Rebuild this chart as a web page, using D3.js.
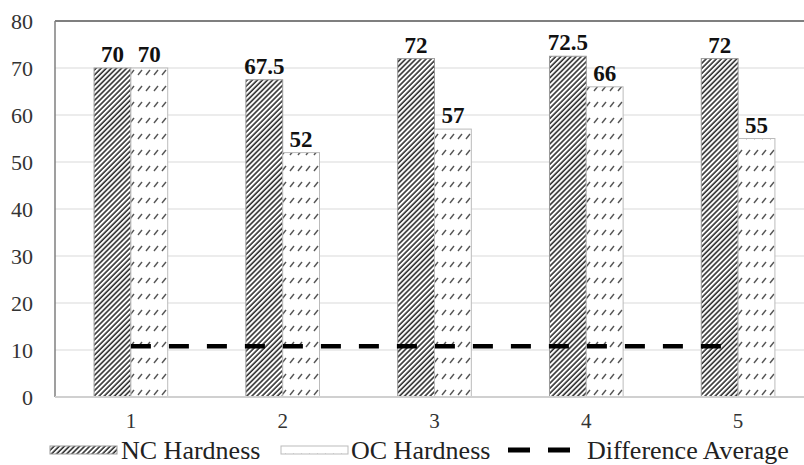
<!DOCTYPE html>
<html><head><meta charset="utf-8">
<script src="https://cdn.jsdelivr.net/npm/d3@7"></script>
<style>body{margin:0;background:#fff}svg{display:block}</style>
</head><body><svg id="c" width="804" height="465"></svg>
<script>
const categories = ["1","2","3","4","5"];
const ncHardness = [70, 67.5, 72, 72.5, 72];
const ocHardness = [70, 52, 57, 66, 55];
const ncLabels = ["70","67.5","72","72.5","72"];
const ocLabels = ["70","52","57","66","55"];
const differenceAverage = [10.8, 10.8, 10.8, 10.8, 10.8];
const yTicks = [0,10,20,30,40,50,60,70,80];
const legendNames = ["NC Hardness","OC Hardness","Difference Average"];

const svg = d3.select("#c");
const FONT = '"Liberation Serif"';
const L = 55, R = 814, T = 21, B = 397;

const defs = svg.append("defs");
const p1 = defs.append("pattern").attr("id","nc").attr("patternUnits","userSpaceOnUse")
  .attr("width",3.6).attr("height",10).attr("patternTransform","rotate(45)");
p1.append("rect").attr("width",3.6).attr("height",10).attr("fill","#fff");
p1.append("line").attr("x1",1).attr("x2",1).attr("y1",0).attr("y2",10).attr("stroke","#222").attr("stroke-width",1.5);

const p2 = defs.append("pattern").attr("id","oc").attr("patternUnits","userSpaceOnUse")
  .attr("width",8).attr("height",16);
p2.append("rect").attr("width",8).attr("height",16).attr("fill","#fff");
p2.append("line").attr("x1",2).attr("y1",11).attr("x2",6).attr("y2",6).attr("stroke","#555").attr("stroke-width",1.4);

const x = d3.scaleBand().domain(categories).range([L,R]).paddingInner(0.515).paddingOuter(0.2575);
const y = d3.scaleLinear().domain([0,80]).range([B,T]);

// gridlines
svg.append("g").selectAll("line").data(yTicks.filter(d=>d>0 && d<80)).join("line")
  .attr("x1",L).attr("x2",804).attr("y1",d=>y(d)).attr("y2",d=>y(d))
  .attr("stroke","#d9d9d9").attr("stroke-width",1);

// y tick labels
svg.append("g").selectAll("text").data(yTicks).join("text")
  .attr("x",33).attr("y",d=>y(d)).attr("dy","0.35em").attr("text-anchor","end")
  .style("font-family",FONT).attr("font-size",22).attr("fill","#333").text(d=>d);

const bw = x.bandwidth()/2;
const g = svg.append("g");
g.selectAll("rect.nc").data(categories).join("rect").attr("class","nc")
  .attr("x",d=>x(d)).attr("y",(d,i)=>y(ncHardness[i])).attr("width",bw)
  .attr("height",(d,i)=>y(0)-y(ncHardness[i])).attr("fill","url(#nc)").attr("stroke","#999").attr("stroke-width",1);
g.selectAll("rect.oc").data(categories).join("rect").attr("class","oc")
  .attr("x",d=>x(d)+bw).attr("y",(d,i)=>y(ocHardness[i])).attr("width",bw)
  .attr("height",(d,i)=>y(0)-y(ocHardness[i])).attr("fill","url(#oc)").attr("stroke","#bbb").attr("stroke-width",1);

// axes lines
svg.append("line").attr("x1",L).attr("x2",804).attr("y1",T).attr("y2",T).attr("stroke","#7f7f7f").attr("stroke-width",2);
svg.append("line").attr("x1",L).attr("x2",L).attr("y1",T).attr("y2",B).attr("stroke","#7f7f7f").attr("stroke-width",1.5);
svg.append("line").attr("x1",L).attr("x2",804).attr("y1",B).attr("y2",B).attr("stroke","#d0d0d0").attr("stroke-width",2);

// difference average line
const line = d3.line().x((d,i)=>x(categories[i])+bw).y(d=>y(d));
svg.append("path").datum(differenceAverage).attr("d",line).attr("fill","none")
  .attr("stroke","#000").attr("stroke-width",4.5).attr("stroke-dasharray","20,18");

// value labels
g.selectAll("text.ncl").data(categories).join("text")
  .attr("x",d=>x(d)+bw/2).attr("y",(d,i)=>y(ncHardness[i])-6).attr("text-anchor","middle")
  .style("font-family",FONT).attr("font-size",23).attr("font-weight","bold").attr("fill","#111").text((d,i)=>ncLabels[i]);
g.selectAll("text.ocl").data(categories).join("text")
  .attr("x",d=>x(d)+bw*1.5).attr("y",(d,i)=>y(ocHardness[i])-6).attr("text-anchor","middle")
  .style("font-family",FONT).attr("font-size",23).attr("font-weight","bold").attr("fill","#111").text((d,i)=>ocLabels[i]);

// category labels
svg.append("g").selectAll("text").data(categories).join("text")
  .attr("x",d=>x(d)+bw).attr("y",428).attr("text-anchor","middle")
  .style("font-family",FONT).attr("font-size",21).attr("fill","#333").text(d=>d);

// legend
const lg = svg.append("g");
lg.append("rect").attr("x",50).attr("y",446).attr("width",67).attr("height",8).attr("fill","url(#nc)").attr("stroke","#999");
lg.append("text").attr("x",121).attr("y",459).style("font-family",FONT).attr("font-size",26).attr("fill","#222").text(legendNames[0]);
lg.append("rect").attr("x",281).attr("y",446).attr("width",67).attr("height",8).attr("fill","url(#oc)").attr("stroke","#bbb");
lg.append("text").attr("x",351).attr("y",459).style("font-family",FONT).attr("font-size",26).attr("fill","#222").text(legendNames[1]);
lg.append("line").attr("x1",508).attr("x2",570).attr("y1",450).attr("y2",450).attr("stroke","#000").attr("stroke-width",5).attr("stroke-dasharray","22,18");
lg.append("text").attr("x",587).attr("y",459).style("font-family",FONT).attr("font-size",26).attr("fill","#222").text(legendNames[2]);
</script></body></html>
